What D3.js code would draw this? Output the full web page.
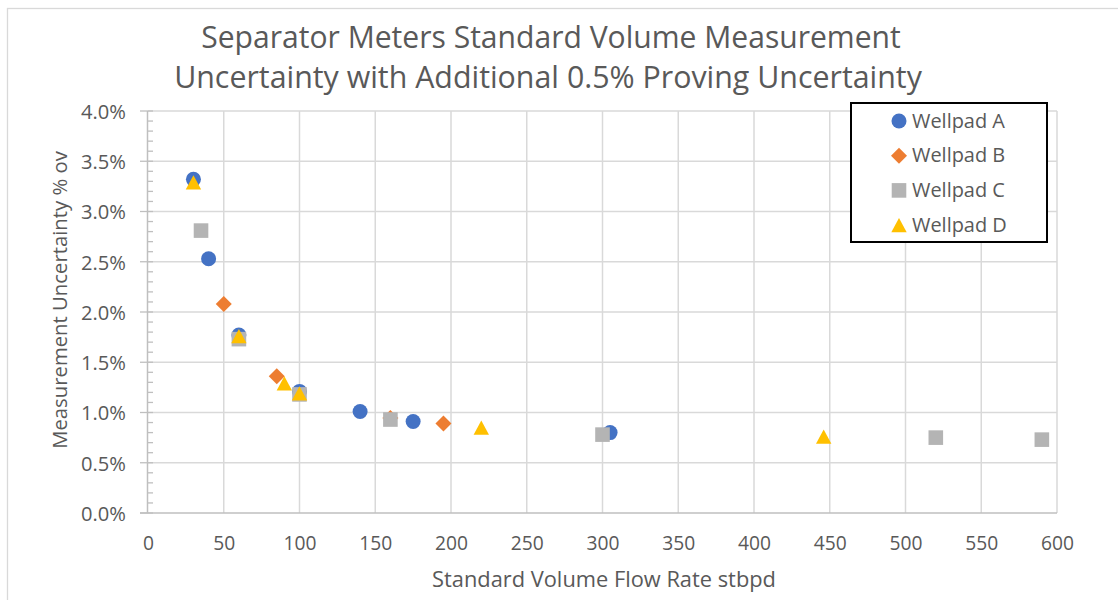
<!DOCTYPE html>
<html>
<head>
<meta charset="utf-8">
<script src="https://cdn.jsdelivr.net/npm/d3@7"></script>
<style>
  html, body { margin: 0; padding: 0; background: #fff; }
  svg { display: block; }
  text { font-family: "Open Sans", Lato, sans-serif; fill: #595959; }
</style>
</head>
<body>
<svg id="chart" width="1118" height="600"></svg>
<script>
// ---------- data ----------
const seriesNames = ["Wellpad A", "Wellpad B", "Wellpad C", "Wellpad D"];
const wellpadAFlow = [30, 40, 60, 100, 140, 175, 305];
const wellpadAUnc  = [0.0332, 0.0253, 0.0177, 0.0121, 0.0101, 0.0091, 0.0080];
const wellpadBFlow = [50, 85, 160, 195];
const wellpadBUnc  = [0.0208, 0.0136, 0.00945, 0.0089];
const wellpadCFlow = [35, 60, 100, 160, 300, 520, 590];
const wellpadCUnc  = [0.0281, 0.0173, 0.0118, 0.0093, 0.0078, 0.0075, 0.0073];
const wellpadDFlow = [30, 60, 90, 100, 220, 446];
const wellpadDUnc  = [0.0329, 0.0176, 0.0129, 0.0119, 0.0085, 0.0076];
const xTickValues = [0, 50, 100, 150, 200, 250, 300, 350, 400, 450, 500, 550, 600];
const yTickValues = [0, 0.005, 0.01, 0.015, 0.02, 0.025, 0.03, 0.035, 0.04];
const titleLines = ["Separator Meters Standard Volume Measurement",
                    "Uncertainty with Additional 0.5% Proving Uncertainty"];
const xTitle = "Standard Volume Flow Rate stbpd";
const yTitle = "Measurement Uncertainty % ov";

// ---------- styles ----------
const colors = ["#4472C4", "#ED7D31", "#B4B4B4", "#FFC000"];
const shapes = ["circle", "diamond", "square", "triangle"];
const flows = [wellpadAFlow, wellpadBFlow, wellpadCFlow, wellpadDFlow];
const uncs  = [wellpadAUnc, wellpadBUnc, wellpadCUnc, wellpadDUnc];
const series = seriesNames.map((n, i) => ({
  name: n, color: colors[i], shape: shapes[i],
  points: flows[i].map((f, j) => ({ x: f, y: uncs[i][j] }))
}));

function markerPath(shape) {
  const p = d3.path();
  if (shape === "circle") { p.arc(0, 0, 7.5, 0, 2 * Math.PI); }
  else if (shape === "square") { p.rect(-7.3, -7.3, 14.6, 14.6); }
  else if (shape === "diamond") { const r = 8; p.moveTo(0, -r); p.lineTo(r, 0); p.lineTo(0, r); p.lineTo(-r, 0); p.closePath(); }
  else if (shape === "triangle") { const w = 7.7, h = 7.2; p.moveTo(0, -h); p.lineTo(w, h); p.lineTo(-w, h); p.closePath(); }
  return p.toString();
}

const svg = d3.select("#chart");

// outer chart border
svg.append("rect").attr("x", 7.5).attr("y", 8.5).attr("width", 1300).attr("height", 800)
  .attr("fill", "#fff").attr("stroke", "#d9d9d9").attr("stroke-width", 1.3);

const plot = { left: 148, right: 1057, top: 111, bottom: 513 };
const x = d3.scaleLinear().domain([0, 600]).range([plot.left, plot.right]);
const y = d3.scaleLinear().domain([0, 0.04]).range([plot.bottom, plot.top]);

function fitText(sel, target) {
  const w = sel.node().getComputedTextLength();
  const fs = parseFloat(sel.attr("font-size"));
  const nf = fs * target / w;
  sel.attr("font-size", nf);
  return nf;
}

// gridlines
const grid = svg.append("g");
grid.selectAll("line.h").data(yTickValues.filter(d => d > 0)).join("line")
  .attr("x1", plot.left).attr("x2", plot.right)
  .attr("y1", d => y(d)).attr("y2", d => y(d))
  .attr("stroke", "#d9d9d9").attr("stroke-width", 1.5);
grid.selectAll("line.v").data(xTickValues.filter(d => d > 0)).join("line")
  .attr("y1", plot.top).attr("y2", plot.bottom)
  .attr("x1", d => x(d)).attr("x2", d => x(d))
  .attr("stroke", "#d9d9d9").attr("stroke-width", 1.5);

// y axis line + ticks
const axisColor = "#bfbfbf";
svg.append("line").attr("x1", plot.left - 0.5).attr("x2", plot.left - 0.5)
  .attr("y1", plot.top).attr("y2", plot.bottom).attr("stroke", axisColor).attr("stroke-width", 1.5);
const minorY = d3.range(0, 41).map(i => i / 1000);
svg.append("g").selectAll("line").data(minorY).join("line")
  .attr("x1", d => (Math.round(d * 1000) % 5 === 0) ? plot.left - 8 : plot.left)
  .attr("x2", plot.left + 5)
  .attr("y1", d => y(d)).attr("y2", d => y(d))
  .attr("stroke", axisColor).attr("stroke-width", 1.3);
// x axis line
svg.append("line").attr("x1", plot.left - 8).attr("x2", plot.right)
  .attr("y1", plot.bottom).attr("y2", plot.bottom).attr("stroke", axisColor).attr("stroke-width", 1.5);

// tick labels via d3 axes
const xAxis = svg.append("g").attr("transform", `translate(0,${plot.bottom})`)
  .call(d3.axisBottom(x).tickValues(xTickValues).tickSize(0).tickPadding(0).tickFormat(d3.format("d")));
xAxis.select(".domain").remove();
xAxis.selectAll("text").attr("fill", "#595959").attr("font-family", "Open Sans")
  .attr("font-size", 18).attr("dy", null).attr("y", 37);
const xfs = fitText(xAxis.selectAll("text").filter(d => d === 150), 33);
xAxis.selectAll("text").attr("font-size", xfs);

const yAxis = svg.append("g").attr("transform", `translate(126,0)`)
  .call(d3.axisLeft(y).tickValues(yTickValues).tickSize(0).tickPadding(0).tickFormat(d3.format(".1%")));
yAxis.select(".domain").remove();
yAxis.selectAll("text").attr("fill", "#595959").attr("font-family", "Open Sans")
  .attr("font-size", 18).attr("dy", "0.36em").attr("x", 0);
const yfs = fitText(yAxis.selectAll("text").filter(d => d === 0.04), 45);
yAxis.selectAll("text").attr("font-size", yfs);

// chart title: two lines
const t1 = svg.append("text").attr("text-anchor", "middle").attr("x", 551).attr("y", 48)
  .attr("font-size", 26).text(titleLines[0]);
const t2 = svg.append("text").attr("text-anchor", "middle").attr("x", 548).attr("y", 88)
  .attr("font-size", 26).text(titleLines[1]);
fitText(t1, 700);
fitText(t2, 748);

const xt = svg.append("text").attr("x", 604).attr("y", 586.5).attr("text-anchor", "middle")
  .attr("font-size", 20).text(xTitle);
fitText(xt, 344);
const yt = svg.append("text").attr("transform", "translate(66.5,300) rotate(-90)")
  .attr("text-anchor", "middle").attr("font-size", 20).text(yTitle);
fitText(yt, 298);

// data marks
const marks = svg.append("g");
series.forEach(s => {
  marks.append("g").selectAll("path").data(s.points).join("path")
    .attr("d", markerPath(s.shape))
    .attr("transform", d => `translate(${x(d.x)},${y(d.y)})`)
    .attr("fill", s.color);
});

// legend
const legend = svg.append("g");
legend.append("rect").attr("x", 851).attr("y", 103).attr("width", 196).attr("height", 139)
  .attr("fill", "#fff").attr("stroke", "#000").attr("stroke-width", 2);
const rows = legend.selectAll("g.row").data(series).join("g")
  .attr("transform", (d, i) => `translate(899,${121 + i * 34.7})`);
rows.append("path").attr("d", d => markerPath(d.shape)).attr("fill", d => d.color);
const lt = rows.append("text").attr("x", 13).attr("y", 6.5).attr("font-size", 18).text(d => d.name);
const lfs = fitText(d3.select(lt.nodes()[0]), 93);
lt.attr("font-size", lfs);
</script>
</body>
</html>
